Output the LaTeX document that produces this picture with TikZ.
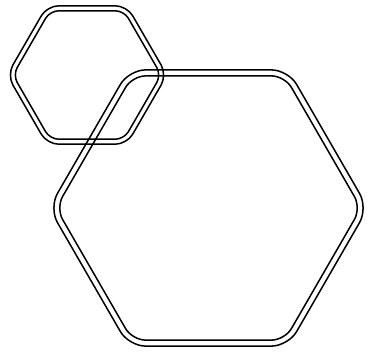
\documentclass[tikz,border=0pt]{standalone}
\usepackage{tikz}
\usetikzlibrary{calc}

\begin{document}
\begin{tikzpicture}[
  x=1pt, y=1pt,
  ring/.style={draw=black, line width=1.5pt, line join=round},
]
% frame of the picture
\useasboundingbox[fill=white] (0,0) rectangle (369,354);
\coordinate (small) at (87,279);
\coordinate (big) at (208.5,146);
% small hexagon, two outlines
\foreach \o in {-1,1} {
  \pgfmathsetmacro{\r}{77+2.5*\o*1.1547}
  \pgfmathsetmacro{\t}{10+2.5*\o/1.732}
  \draw[ring, shift={(small)}, rounded corners=\t pt]
    (0:\r) -- (60:\r) -- (120:\r) -- (180:\r) -- (240:\r) -- (300:\r) -- cycle;
}
% large hexagon, two outlines
\foreach \o in {-1,1} {
  \pgfmathsetmacro{\r}{156+3*\o*1.1547}
  \pgfmathsetmacro{\t}{15+3*\o/1.732}
  \draw[ring, shift={(big)}, rounded corners=\t pt]
    (0:\r) -- (60:\r) -- (120:\r) -- (180:\r) -- (240:\r) -- (300:\r) -- cycle;
}
\end{tikzpicture}
\end{document}
